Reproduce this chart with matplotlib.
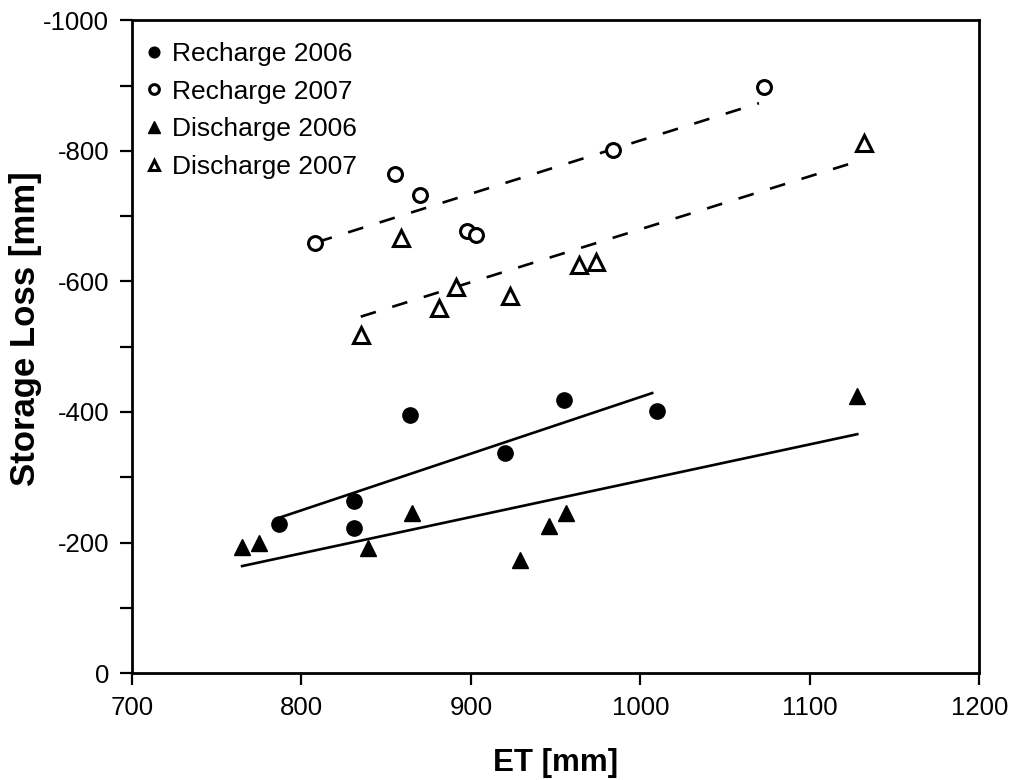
import numpy as np
import matplotlib
matplotlib.use('Agg')
import matplotlib.pyplot as plt

plt.rcParams['font.family'] = ['Liberation Sans', 'DejaVu Sans']
plt.rcParams['axes.unicode_minus'] = False

# ET [mm] and storage loss [mm]
rech06_x = [787, 831, 831, 864, 920, 955, 1010]
rech06_y = [-228, -264, -223, -395, -337, -418, -401]
rech07_x = [808, 855, 870, 898, 903, 984, 1073]
rech07_y = [-659, -764, -732, -677, -671, -802, -898]
dis06_x = [765, 775, 839, 865, 929, 946, 956, 1128]
dis06_y = [-193, -200, -191, -246, -173, -226, -246, -424]
dis07_x = [835, 859, 881, 891, 923, 964, 974, 1132]
dis07_y = [-518, -667, -559, -592, -578, -625, -630, -812]

# regression line end points
fit_rech06 = ([788, 1007], [-239, -429])
fit_dis06 = ([765, 1128], [-164, -366])
fit_rech07 = ([809, 1070], [-660, -873])
fit_dis07 = ([835, 1132], [-546, -787])

fig = plt.figure(figsize=(10.19, 7.8), dpi=100)
ax = fig.add_axes([0.1295, 0.137, 0.8315, 0.837])

ax.plot(*fit_rech06, '-', color='black', lw=1.9)
ax.plot(*fit_dis06, '-', color='black', lw=1.9)
ax.plot(*fit_rech07, '--', color='black', lw=1.9, dashes=(6, 6.5))
ax.plot(*fit_dis07, '--', color='black', lw=1.9, dashes=(6, 6.5))

ax.plot(rech06_x, rech06_y, 'o', color='black', ms=11, label='Recharge 2006')
ax.plot(rech07_x, rech07_y, 'o', mfc='white', mec='black', mew=2.2, ms=10,
        label='Recharge 2007')
ax.plot(dis06_x, dis06_y, '^', color='black', ms=12, label='Discharge 2006')
ax.plot(dis07_x, dis07_y, '^', mfc='white', mec='black', mew=2.2, ms=11,
        label='Discharge 2007')

ax.set_xlim(700, 1200)
ax.set_ylim(0, -1000)
ax.set_xticks(np.arange(700, 1201, 100))
ax.set_yticks(np.arange(0, -1001, -200))
ax.set_yticks(np.arange(-100, -1000, -200), minor=True)
ax.tick_params(which='both', direction='out', length=8.5, width=1.6,
               labelsize=18.5, colors='black', pad=8)
for s in ax.spines.values():
    s.set_linewidth(2)

ax.set_xlabel('ET [mm]', fontsize=22.5, fontweight='bold', labelpad=20)
ax.set_ylabel('Storage Loss [mm]', fontsize=25, fontweight='bold')
ax.yaxis.set_label_coords(-0.106, 0.528)

ax.legend(loc='upper left', bbox_to_anchor=(-0.003, 0.991), frameon=False,
          fontsize=19, markerscale=0.7, handlelength=0.7, handletextpad=0.3,
          labelspacing=0.52, borderaxespad=0.2, borderpad=0.4)

plt.savefig('out.png', dpi=100)
